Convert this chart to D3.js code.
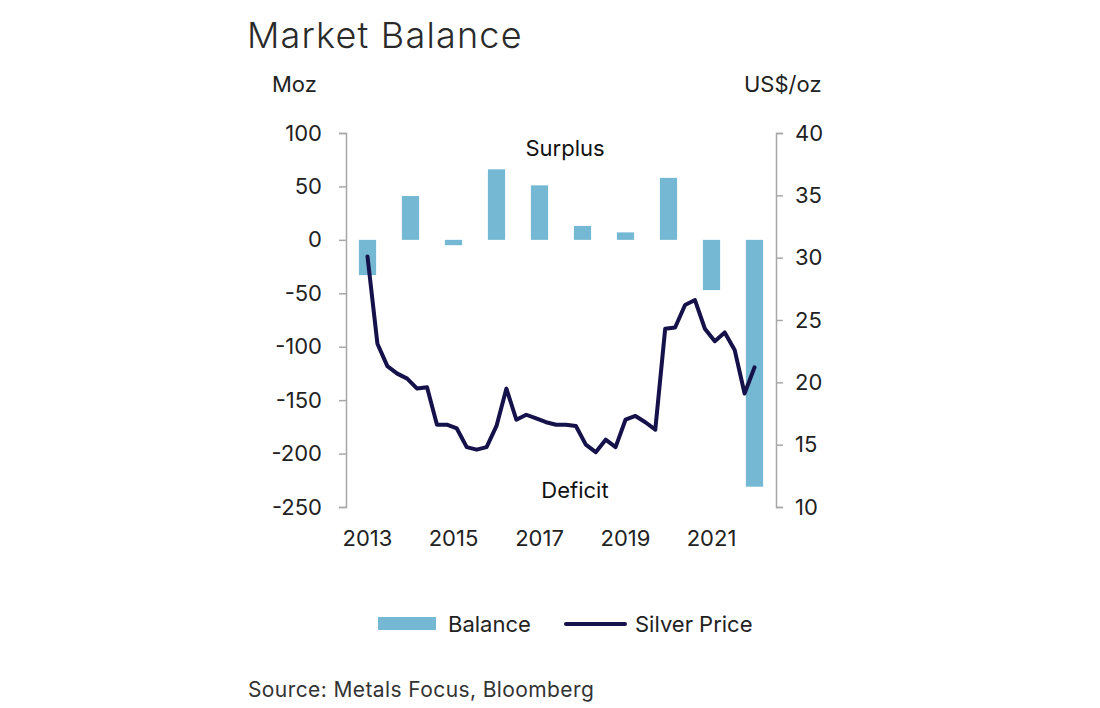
<!DOCTYPE html>
<html>
<head>
<meta charset="utf-8">
<script src="https://cdn.jsdelivr.net/npm/d3@7"></script>
<style>
  html, body { margin: 0; padding: 0; background: #fff; }
  svg { display: block; font-family: Inter, "Noto Sans", sans-serif; }
</style>
</head>
<body>
<svg id="chart" width="1100" height="708"></svg>
<script>
// ---- Data ----
const years = [2013, 2014, 2015, 2016, 2017, 2018, 2019, 2020, 2021, 2022];
const balance = [-33, 41, -5, 66, 51, 13, 7, 58, -47, -231];
// quarterly silver price, 2013 Q1 .. 2022 Q4 (US$/oz)
const silverPrice = [
  30.1, 23.1, 21.3, 20.7, 20.3, 19.5, 19.6, 16.6, 16.6, 16.3,
  14.8, 14.6, 14.8, 16.5, 19.5, 17.0, 17.4, 17.1, 16.8, 16.6,
  16.6, 16.5, 15.0, 14.4, 15.4, 14.8, 17.0, 17.3, 16.8, 16.2,
  24.3, 24.4, 26.2, 26.6, 24.3, 23.3, 24.0, 22.6, 19.1, 21.2
];
const leftTicks = [100, 50, 0, -50, -100, -150, -200, -250];
const rightTicks = [40, 35, 30, 25, 20, 15, 10];
const xTickYears = [2013, 2015, 2017, 2019, 2021];

// ---- Layout ----
const svg = d3.select("#chart");
const plotLeft = 346, plotRight = 776, plotTop = 133, plotBottom = 507;
const barColor = "#74b8d3";
const lineColor = "#15114a";
const axisColor = "#a8a8a8";
const textColor = "#222";
const fs = 22;
const fontFam = "Inter, 'Noto Sans', sans-serif";

const x = d3.scaleBand().domain(years).range([plotLeft, plotRight]).paddingInner(0.6).paddingOuter(0.3);
const yL = d3.scaleLinear().domain([-250, 100]).range([plotBottom, plotTop]);
const yR = d3.scaleLinear().domain([10, 40]).range([plotBottom, plotTop]);
const xLine = d3.scaleLinear().domain([0, silverPrice.length - 1])
  .range([x(years[0]) + x.bandwidth() / 2, x(years[years.length - 1]) + x.bandwidth() / 2]);

// Title
svg.append("text").attr("x", 247).attr("y", 48)
  .attr("font-size", 36).attr("font-weight", 300).attr("letter-spacing", 1.2).attr("fill", "#2a2a2a")
  .text("Market Balance");

// Units
svg.append("text").attr("x", 272).attr("y", 92).attr("font-size", fs).attr("fill", textColor).text("Moz");
svg.append("text").attr("x", 744).attr("y", 92).attr("font-size", fs).attr("fill", textColor).text("US$/oz");

// Bars
svg.append("g").selectAll("rect").data(years).join("rect")
  .attr("x", d => x(d))
  .attr("width", x.bandwidth())
  .attr("y", (d, i) => yL(Math.max(0, balance[i])))
  .attr("height", (d, i) => Math.abs(yL(balance[i]) - yL(0)))
  .attr("fill", barColor);

// Left axis
const gL = svg.append("g").attr("transform", `translate(${plotLeft},0)`)
  .call(d3.axisLeft(yL).tickValues(leftTicks).tickSize(7).tickPadding(17).tickFormat(d => String(d)));
// Right axis
const gR = svg.append("g").attr("transform", `translate(${plotRight},0)`)
  .call(d3.axisRight(yR).tickValues(rightTicks).tickSize(7).tickPadding(12).tickFormat(d => String(d)));
[gL, gR].forEach(g => {
  g.selectAll("path.domain").attr("stroke", axisColor).attr("stroke-width", 1.5);
  g.selectAll(".tick line").attr("stroke", axisColor).attr("stroke-width", 1.5);
  g.selectAll(".tick text").attr("font-size", fs).attr("fill", textColor).attr("font-family", fontFam);
});

// X axis (labels only)
const gX = svg.append("g").attr("transform", `translate(0,${plotBottom})`)
  .call(d3.axisBottom(x).tickValues(xTickYears).tickSize(0).tickPadding(23));
gX.select("path.domain").remove();
gX.selectAll(".tick text").attr("font-size", fs).attr("fill", textColor).attr("font-family", fontFam);

// Line
const line = d3.line().x((d, i) => xLine(i)).y(d => yR(d));
svg.append("path").datum(silverPrice)
  .attr("d", line).attr("fill", "none")
  .attr("stroke", lineColor).attr("stroke-width", 4)
  .attr("stroke-linejoin", "round").attr("stroke-linecap", "round");

// Annotations
svg.append("text").attr("x", 565).attr("y", 156).attr("text-anchor", "middle")
  .attr("font-size", fs).attr("fill", "#111").text("Surplus");
svg.append("text").attr("x", 575).attr("y", 498).attr("text-anchor", "middle")
  .attr("font-size", fs).attr("fill", "#111").text("Deficit");

// Legend
const lg = svg.append("g");
lg.append("rect").attr("x", 378).attr("y", 617).attr("width", 58).attr("height", 13).attr("fill", barColor);
lg.append("text").attr("x", 448).attr("y", 632).attr("font-size", fs).attr("fill", textColor).text("Balance");
lg.append("line").attr("x1", 566).attr("x2", 625).attr("y1", 624).attr("y2", 624)
  .attr("stroke", lineColor).attr("stroke-width", 4).attr("stroke-linecap", "round");
lg.append("text").attr("x", 635).attr("y", 632).attr("font-size", fs).attr("fill", textColor).text("Silver Price");

// Source
svg.append("text").attr("x", 248).attr("y", 697).attr("font-size", 21).attr("letter-spacing", 0.4).attr("fill", "#333")
  .text("Source: Metals Focus, Bloomberg");
</script>
</body>
</html>
